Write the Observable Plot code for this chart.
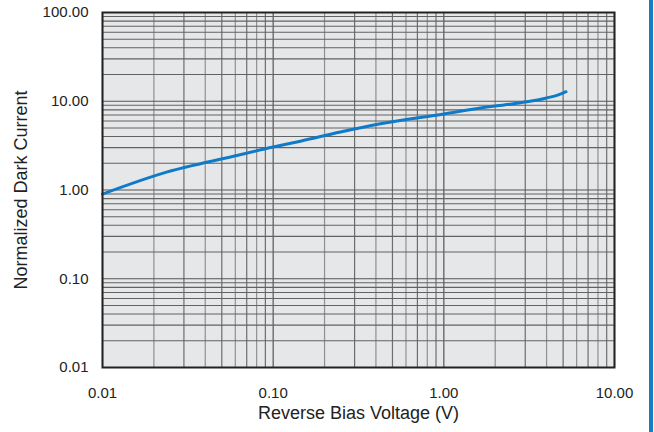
<!DOCTYPE html>
<html><head><meta charset="utf-8">
<script src="https://cdn.jsdelivr.net/npm/d3@7"></script>
<script src="https://cdn.jsdelivr.net/npm/@observablehq/plot@0.6"></script>
<style>
body{margin:0;background:#fff;}
#wrap{position:relative;width:654px;height:432px;overflow:hidden;}
#bar{position:absolute;left:649px;top:0;width:4px;height:432px;background:#1a7cc6;}
</style>
</head><body>
<div id="wrap"><div id="bar"></div></div>
<script>
const voltage = [0.01, 0.024, 0.0585, 0.1, 0.1445, 0.248, 0.425, 1.0, 1.64, 2.36, 3.2, 4.0, 4.69, 5.2];
const darkCurrent = [0.90, 1.60, 2.40, 3.05, 3.55, 4.5, 5.57, 7.2, 8.4, 9.2, 10.0, 10.9, 11.8, 12.8];
const xTicks = [0.01, 0.1, 1, 10];
const yTicks = [0.01, 0.1, 1, 10, 100];
const xTickLabels = ["0.01", "0.10", "1.00", "10.00"];
const yTickLabels = ["0.01", "0.10", "1.00", "10.00", "100.00"];

const data = voltage.map((v, i) => ({v, c: darkCurrent[i]}));
const grid = (lo, hi) => {
  const out = [];
  for (let d = lo; d < hi; d *= 10) for (let k = 1; k <= 9; k++) out.push({val: +(d * k).toPrecision(3), k});
  out.push({val: hi, k: 1});
  return out;
};
const gx = grid(0.01, 10);
const gy = grid(0.01, 100);

const chart = Plot.plot({
  width: 654, height: 432,
  marginLeft: 102, marginRight: 40, marginTop: 12, marginBottom: 65,
  style: {fontFamily: "'Liberation Sans', Arial, sans-serif", fontSize: "15px", color: "#222", background: "transparent"},
  x: {type: "log", domain: [0.01, 10]},
  y: {type: "log", domain: [0.01, 100]},
  marks: [
    Plot.frame({fill: "#e6e7e8", stroke: null}),
    Plot.ruleX(gx, {x: "val", stroke: d => d.k === 1 ? "#555" : (d.k % 2 ? "#6e6e6e" : "#909090"), strokeWidth: 1.2}),
    Plot.ruleY(gy, {y: "val", stroke: d => d.k === 1 ? "#555" : "#626262", strokeWidth: 1.1}),
    Plot.line(data, {x: "v", y: "c", stroke: "#0f7ac8", strokeWidth: 3, curve: "monotone-x"}),
    Plot.frame({stroke: "#222", strokeWidth: 2}),
    Plot.axisX(xTicks, {tickSize: 0, tickPadding: 20, fontSize: 15, tickFormat: d => xTickLabels[xTicks.indexOf(d)], label: null}),
    Plot.axisY(yTicks, {tickSize: 0, tickPadding: 14, fontSize: 15, tickFormat: d => yTickLabels[yTicks.indexOf(d)], label: null}),
    Plot.text(["Reverse Bias Voltage (V)"], {frameAnchor: "bottom", dy: 51, fontSize: 18, fill: "#222", style: "letter-spacing:0.35px"}),
    Plot.text(["Normalized Dark Current"], {frameAnchor: "left", dx: -81, rotate: -90, textAnchor: "middle", fontSize: 18, fill: "#222"})
  ]
});
document.getElementById("wrap").prepend(chart);
</script>
</body></html>
